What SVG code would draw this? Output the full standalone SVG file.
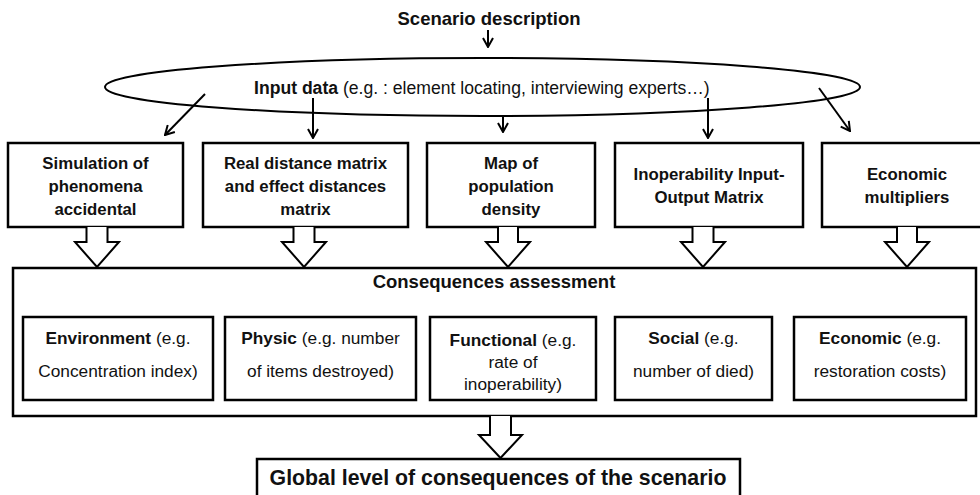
<svg xmlns="http://www.w3.org/2000/svg" width="980" height="495" viewBox="0 0 980 495">
<defs>
<style>
.box{fill:#fff;stroke:#000;stroke-width:2.5}
.ln{fill:none;stroke:#000;stroke-width:2}
.blk{fill:#fff;stroke:#000;stroke-width:2;stroke-linejoin:miter}
text{font-family:"Liberation Sans",Arial,sans-serif;fill:#111;text-anchor:middle}
.tb{font-size:16.8px;font-weight:bold}
.ib{font-size:17.3px}
.b{font-weight:bold}
</style>
<marker id="ah" viewBox="0 0 12 12" refX="11" refY="6" markerWidth="12" markerHeight="12" markerUnits="userSpaceOnUse" orient="auto">
<path d="M2,1 L11,6 L2,11" fill="none" stroke="#000" stroke-width="2"/>
</marker>
</defs>
<rect width="980" height="495" fill="#fff"/>

<g id="scenario">
<text x="489" y="25" class="b" style="font-size:18.5px">Scenario description</text>
</g>

<g id="input-data">
<ellipse cx="482.5" cy="87" rx="377.5" ry="29" class="ln"/>
<text x="254" y="94" style="font-size:17.6px;text-anchor:start"><tspan class="b">Input data</tspan> (e.g. : element locating, interviewing experts…)</text>
</g>

<g id="box-simulation">
<rect x="8" y="143" width="175" height="84" class="box"/>
<text class="tb"><tspan x="95.5" y="169">Simulation of</tspan><tspan x="95.5" y="192">phenomena</tspan><tspan x="95.5" y="215">accidental</tspan></text>
</g>
<g id="box-distance">
<rect x="203" y="143" width="205" height="84" class="box"/>
<text class="tb"><tspan x="305.5" y="169">Real distance matrix</tspan><tspan x="305.5" y="192">and effect distances</tspan><tspan x="305.5" y="215">matrix</tspan></text>
</g>
<g id="box-map">
<rect x="427" y="143" width="168" height="84" class="box"/>
<text class="tb"><tspan x="511" y="169">Map of</tspan><tspan x="511" y="192">population</tspan><tspan x="511" y="215">density</tspan></text>
</g>
<g id="box-iio">
<rect x="615" y="143" width="188" height="84" class="box"/>
<text class="tb"><tspan x="709" y="180">Inoperability Input-</tspan><tspan x="709" y="203">Output Matrix</tspan></text>
</g>
<g id="box-multipliers">
<rect x="822" y="143" width="175" height="84" class="box"/>
<text class="tb"><tspan x="907" y="180">Economic</tspan><tspan x="907" y="203">multipliers</tspan></text>
</g>

<g id="consequences">
<rect x="13" y="268" width="963" height="148" class="box"/>
<text x="494" y="288" class="b" style="font-size:18.5px">Consequences assessment</text>
</g>

<g id="c-environment">
<rect x="23" y="317" width="190" height="83" class="box"/>
<text class="ib"><tspan x="118" y="344"><tspan class="b">Environment</tspan> (e.g.</tspan><tspan x="118" y="377">Concentration index)</tspan></text>
</g>
<g id="c-physic">
<rect x="225" y="317" width="191" height="83" class="box"/>
<text class="ib"><tspan x="320.5" y="344"><tspan class="b">Physic</tspan> (e.g. number</tspan><tspan x="320.5" y="377">of items destroyed)</tspan></text>
</g>
<g id="c-functional">
<rect x="430" y="317" width="166" height="83" class="box"/>
<text class="ib"><tspan x="513" y="346"><tspan class="b">Functional</tspan> (e.g.</tspan><tspan x="513" y="368">rate of</tspan><tspan x="513" y="390">inoperability)</tspan></text>
</g>
<g id="c-social">
<rect x="615" y="317" width="157" height="83" class="box"/>
<text class="ib"><tspan x="693.5" y="344"><tspan class="b">Social</tspan> (e.g.</tspan><tspan x="693.5" y="377">number of died)</tspan></text>
</g>
<g id="c-economic">
<rect x="794" y="317" width="172" height="83" class="box"/>
<text class="ib"><tspan x="880" y="344"><tspan class="b">Economic</tspan> (e.g.</tspan><tspan x="880" y="377">restoration costs)</tspan></text>
</g>

<g id="global">
<rect x="257" y="459" width="483" height="45" class="box"/>
<text x="498" y="485" class="b" style="font-size:21.3px">Global level of consequences of the scenario</text>
</g>

<g id="connectors">
<line x1="488" y1="30" x2="488" y2="47" class="ln" marker-end="url(#ah)"/>
<line x1="205" y1="94" x2="165" y2="135" class="ln" marker-end="url(#ah)"/>
<line x1="313" y1="98" x2="313" y2="138" class="ln" marker-end="url(#ah)"/>
<line x1="503" y1="115" x2="503" y2="132" class="ln" marker-end="url(#ah)"/>
<line x1="708" y1="98" x2="708" y2="138" class="ln" marker-end="url(#ah)"/>
<line x1="819" y1="88" x2="850" y2="131" class="ln" marker-end="url(#ah)"/>

<path class="blk" d="M86.5,227 V242 H75 L97,267 L119,242 H107.5 V227"/>
<path class="blk" d="M293.5,227 V242 H282 L304,267 L326,242 H314.5 V227"/>
<path class="blk" d="M498,227 V242 H486 L508,267 L530,242 H518 V227"/>
<path class="blk" d="M692.5,227 V242 H681 L703,267 L725,242 H713.5 V227"/>
<path class="blk" d="M897,227 V242 H885 L907,267 L929,242 H917 V227"/>
<path class="blk" d="M490,416 V435 H479 L500.5,458 L522,435 H511 V416"/>
</g>
</svg>
